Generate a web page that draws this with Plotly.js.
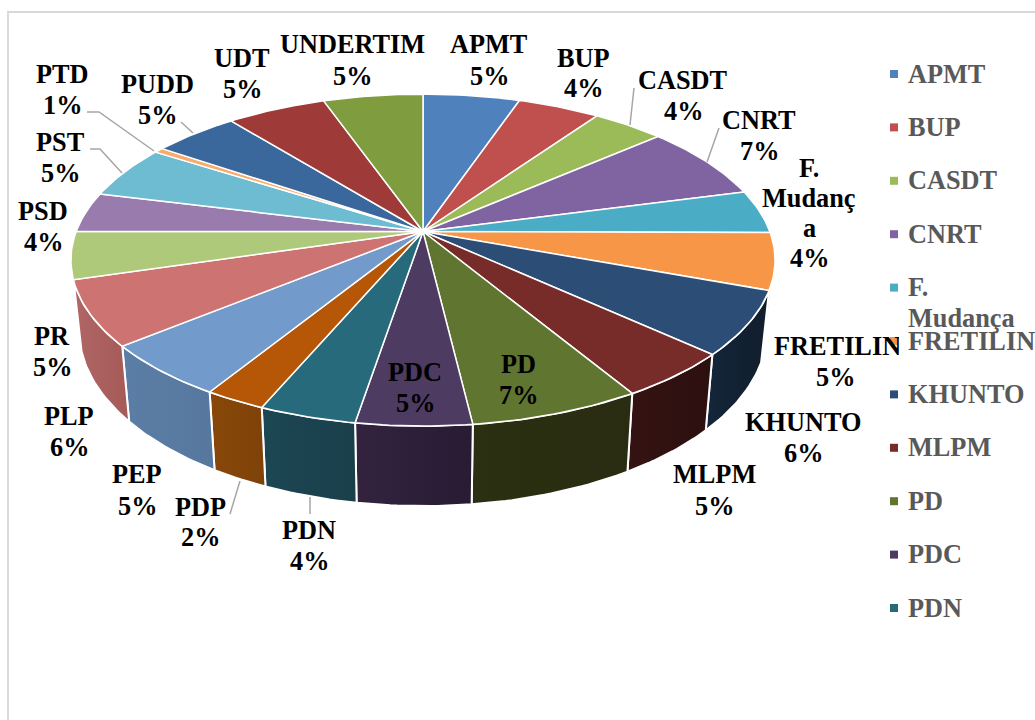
<!DOCTYPE html>
<html>
<head>
<meta charset="utf-8">
<script src="https://cdn.plot.ly/plotly-3.0.1.min.js"></script>
<style>html,body{margin:0;padding:0;background:#fff;overflow:hidden}#chart{width:1035px;height:720px}</style>
</head>
<body>
<div id="chart"></div>
<script>
// ---- Data ----
const categories = ["APMT","BUP","CASDT","CNRT","F. Mudança","FRETILIN","KHUNTO","MLPM","PD","PDC","PDN","PDP","PEP","PLP","PR","PSD","PST","PTD","PUDD","UDT","UNDERTIM"];
const values = [5.24,4.46,3.9,7.27,4.23,5.5,6.2,4.6,6.7,4.5,3.8,2.4,5.25,6.35,4.6,3.9,5.15,0.5,4.65,5.4,5.4];
const percentLabels = ["5%","4%","4%","7%","4%","5%","6%","5%","7%","5%","4%","2%","5%","6%","5%","4%","5%","1%","5%","5%","5%"];
const topColors = ["#4F81BD","#C0504D","#9BBB59","#8064A2","#4BACC6","#F79646","#2C4D75","#772C2A","#5F7530","#4D3B62","#276A7C","#B65708","#729ACA","#CD7371","#AFC97A","#997BAE","#6EBCD1","#F9AB6B","#3A679C","#9E3B38","#7F9C3F"];
const wallColors = {
  "FRETILIN":["#8a4f1e","#6f3f18"],"KHUNTO":["#14263a","#101d2c"],"MLPM":["#351312","#2c0f0f"],
  "PD":["#2a3012","#2a2c11"],"PDC":["#33233f","#281b33"],"PDN":["#1c4753","#1a3f4b"],
  "PDP":["#884709","#7e4208"],"PEP":["#5b7ea6","#57779d"],"PLP":["#af6664","#a55a58"]
};
const legendCount = 11;

// ---- Projection of the tilted disc ----
const cx = 423, cy = 231.5, rimA = 346.8, rimB = 161, persp = 0.172;
const wallFrom = 107, wallTo = 253.3;
const rim = t => { const r = t*Math.PI/180, w = 1 + persp*Math.cos(r);
  return [cx + rimA*Math.sin(r)/w, cy - rimB*Math.cos(r)/w]; };
const base = t => { const p = rim(t); return [cx + 0.977*(p[0]-cx), 300 + 1.06*(p[1]-cy)]; };
const arc = (f, a, b) => { const n = Math.max(2, Math.ceil(Math.abs(b-a))), o = [];
  for (let i = 0; i <= n; i++) o.push(f(a + (b-a)*i/n)); return o; };

const total = values.reduce((s,v)=>s+v,0);
let acc = 0;
const spans = values.map(v => { const a = acc/total*360; acc += v; return [a, acc/total*360]; });

const traces = [];
// side walls
spans.forEach((s,i) => {
  const a = Math.max(s[0], wallFrom), b = Math.min(s[1], wallTo);
  if (b <= a) return;
  const pts = arc(rim,a,b).concat(arc(base,b,a));
  pts.push(pts[0]);
  const wc = wallColors[categories[i]];
  traces.push({type:"scatter",mode:"lines",x:pts.map(p=>p[0]),y:pts.map(p=>p[1]),fill:"toself",
    fillgradient:{type:"horizontal",colorscale:[[0,wc[0]],[1,wc[1]]]},
    line:{color:"#ffffff",width:2},hoverinfo:"skip",showlegend:false,name:categories[i]+" side"});
});
// top slices
spans.forEach((s,i) => {
  const pts = [[cx,cy]].concat(arc(rim,s[0],s[1]));
  pts.push([cx,cy]);
  traces.push({type:"scatter",mode:"lines",x:pts.map(p=>p[0]),y:pts.map(p=>p[1]),fill:"toself",
    fillcolor:topColors[i],line:{color:"#ffffff",width:1.5},hoverinfo:"skip",showlegend:false,name:categories[i]});
});
// leader lines
const leaders = [[[87,112],[99,112],[154,151]],[[181,122],[193,133]],[[90,149],[100,149],[122,173]],[[634,88],[630,125]],[[719,128],[707,162]],[[240,481],[230,514]],[[310,497],[310,514]]];
leaders.forEach(l => traces.push({type:"scatter",mode:"lines",x:l.map(p=>p[0]),y:l.map(p=>p[1]),
  line:{color:"#A6A6A6",width:1.5},hoverinfo:"skip",showlegend:false}));
// legend markers
const legendY = i => 74 + 53.4*i;
const legendIdx = categories.slice(0,legendCount).map((c,i)=>i);
traces.push({type:"scatter",mode:"markers",x:legendIdx.map(()=>894),y:legendIdx.map(legendY),
  marker:{symbol:"square",size:8,color:legendIdx.map(i=>topColors[i])},hoverinfo:"skip",showlegend:false});

// ---- Text ----
const font = "Liberation Serif", lblSize = 26.3;
const ann = [];
const put = (text,x,y,color,extra) => ann.push(Object.assign({text,x,y,xref:"x",yref:"y",showarrow:false,
  xanchor:"center",yanchor:"middle",borderpad:0,
  font:{family:font,size:lblSize,color,weight:"bold"}},extra||{}));
const labelPlaces = {
  "APMT":[489,[44,76]],"BUP":[583,[58,88]],"CASDT":[683,[80,111]],"CNRT":[759,[120,151]],
  "KHUNTO":[803,[422,453]],"MLPM":[714,[474,506]],"PD":[518,[364,395]],"PDC":[415,[372,403]],
  "PDN":[309,[530,561]],"PDP":[200,[507,537]],"PEP":[137,[474,506]],"PLP":[69,[416,447]],
  "PR":[52,[336,367]],"PSD":[43,[211,242]],"PST":[60,[142,173]],"PTD":[62,[74,105]],
  "PUDD":[157,[84,115]],"UDT":[242,[58,89]],"UNDERTIM":[352,[44,76]]
};
categories.forEach((c,i) => {
  const p = labelPlaces[c]; if (!p) return;
  put(c,p[0],p[1][0],"#000000"); put(percentLabels[i],p[0],p[1][1],"#000000");
});
// wrapped and clipped labels
["F.","Mudanç","a",percentLabels[4]].forEach((t,i)=>put(t,809,[168,198,228,258][i],"#000000"));
put("FRETILIN",773,346,"#000000",{xanchor:"left",align:"left",width:125});
put(percentLabels[5],835,377,"#000000");
// legend text
legendIdx.forEach(i => {
  const parts = categories[i]==="F. Mudança" ? ["F.","Mudança"] : [categories[i]];
  parts.forEach((t,k)=>put(t,907,legendY(i)+k*31,"#595959",{xanchor:"left"}));
});

const layout = {
  width:1035,height:720,margin:{l:0,r:0,t:0,b:0},paper_bgcolor:"#ffffff",plot_bgcolor:"#ffffff",showlegend:false,
  xaxis:{range:[0,1035],visible:false,fixedrange:true},
  yaxis:{range:[720,0],visible:false,fixedrange:true},
  shapes:[{type:"rect",xref:"x",yref:"y",x0:8,y0:12,x1:1100,y1:800,line:{color:"#D9D9D9",width:2},layer:"below"}],
  annotations:ann
};
Plotly.newPlot("chart",traces,layout,{displayModeBar:false,staticPlot:true});
</script>
</body>
</html>
